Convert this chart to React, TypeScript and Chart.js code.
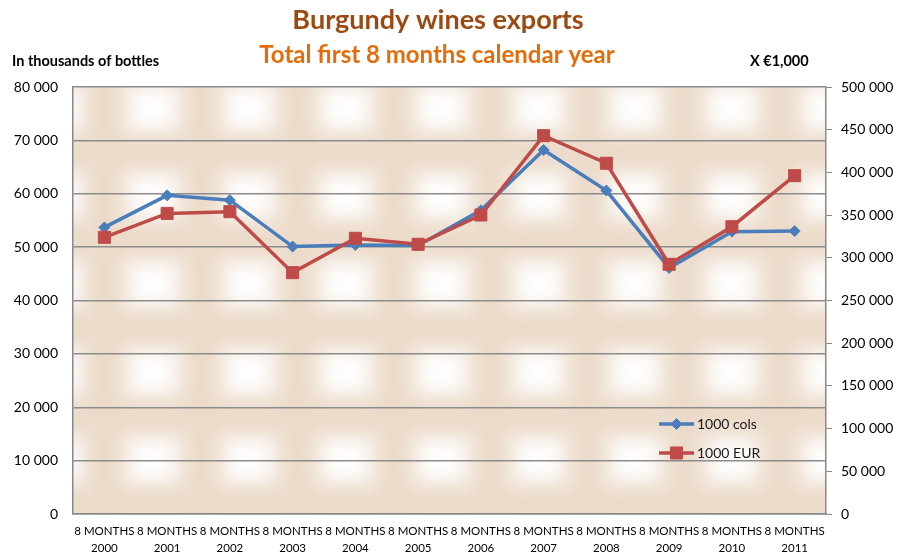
import { useEffect, useRef } from "react";
import { Chart, registerables } from "chart.js";

Chart.register(...registerables);

const years = ["2000", "2001", "2002", "2003", "2004", "2005", "2006", "2007", "2008", "2009", "2010", "2011"];
const categoryPrefix = "8 MONTHS";
const colsValues = [53700, 59700, 58800, 50100, 50400, 50300, 56900, 68200, 60600, 46100, 52900, 53000];
const eurValues = [324000, 352000, 354000, 282600, 322800, 315800, 350100, 443000, 410700, 292400, 336400, 396200];
const leftTickStep = 10000;
const leftMax = 80000;
const rightTickStep = 50000;
const rightMax = 500000;

const titleText = "Burgundy wines exports";
const subtitleText = "Total first 8 months calendar year";
const leftCaption = "In thousands of bottles";
const rightCaption = "X €1,000";
const seriesNames = ["1000 cols", "1000 EUR"];

const BLUE = "#4a7ebb";
const RED = "#be4b48";
const FONT = "Lato, 'Liberation Sans', sans-serif";

const fmt = (v: number) => String(v).replace(/\B(?=(\d{3})+(?!\d))/g, " ");

function makePattern(ctx: CanvasRenderingContext2D) {
  const W = 96.5;
  const H = 88;
  const tile = document.createElement("canvas");
  tile.width = 97;
  tile.height = H;
  const t = tile.getContext("2d")!;
  t.fillStyle = "#ecdbca";
  t.fillRect(0, 0, 97, H);
  t.filter = "blur(9px)";
  t.fillStyle = "rgba(255,255,255,0.6)";
  t.fillRect(17, 17, 63, 54);
  t.filter = "blur(7px)";
  t.fillStyle = "rgba(255,255,255,0.85)";
  t.fillRect(30, 28, 37, 32);
  t.filter = "none";
  const p = ctx.createPattern(tile, "repeat")!;
  p.setTransform(new DOMMatrix().translate(153 - 48.5, 372 - 44).scale(W / 97, 1));
  return p;
}

const bgPlugin = {
  id: "bgPattern",
  beforeDraw(chart: any) {
    const { ctx, chartArea } = chart;
    ctx.save();
    ctx.fillStyle = makePattern(ctx);
    ctx.fillRect(chartArea.left, chartArea.top, chartArea.right - chartArea.left, chartArea.bottom - chartArea.top);
    ctx.restore();
  },
};

function drawMarker(ctx: CanvasRenderingContext2D, style: string, r: number, x: number, y: number, color: string) {
  ctx.save();
  ctx.fillStyle = color;
  ctx.strokeStyle = color;
  ctx.lineWidth = 1;
  ctx.beginPath();
  if (style === "rect") {
    const s = Math.SQRT1_2 * r;
    ctx.rect(x - s, y - s, 2 * s, 2 * s);
  } else {
    ctx.moveTo(x - r, y);
    ctx.lineTo(x, y - r);
    ctx.lineTo(x + r, y);
    ctx.lineTo(x, y + r);
    ctx.closePath();
  }
  ctx.fill();
  ctx.stroke();
  ctx.restore();
}

const textPlugin = {
  id: "texts",
  afterDraw(chart: any) {
    const { ctx } = chart;
    ctx.save();
    ctx.textBaseline = "middle";
    ctx.textAlign = "center";
    ctx.fillStyle = "#9c4a12";
    ctx.font = `bold 27px ${FONT}`;
    ctx.fillText(titleText, 438, 20);
    ctx.fillStyle = "#e46c0a";
    ctx.font = `bold 24px ${FONT}`;
    ctx.fillText(subtitleText, 437, 55);
    ctx.fillStyle = "#000000";
    ctx.font = `bold 14.5px ${FONT}`;
    ctx.textAlign = "left";
    ctx.fillText(leftCaption, 12, 61);
    ctx.fillText(rightCaption, 750, 61);

    const items = [
      { name: seriesNames[0], color: BLUE, style: "rectRot", r: 5.5, y: 424 },
      { name: seriesNames[1], color: RED, style: "rect", r: 8.5, y: 453 },
    ];
    ctx.font = `14px ${FONT}`;
    for (const it of items) {
      ctx.strokeStyle = it.color;
      ctx.lineWidth = 3.5;
      ctx.beginPath();
      ctx.moveTo(659, it.y);
      ctx.lineTo(694, it.y);
      ctx.stroke();
      drawMarker(ctx, it.style, it.r, 676.5, it.y, it.color);
      ctx.fillStyle = "#1a1a1a";
      ctx.fillText(it.name, 697, it.y);
    }
    ctx.restore();
  },
};

export default function App() {
  const ref = useRef<HTMLCanvasElement>(null);
  useEffect(() => {
    const canvas = ref.current!;
    const chart = new Chart(canvas, {
      type: "line",
      data: {
        labels: years.map((y) => [categoryPrefix, y]),
        datasets: [
          {
            label: seriesNames[0],
            data: colsValues,
            yAxisID: "y",
            borderColor: BLUE,
            backgroundColor: BLUE,
            borderWidth: 3.5,
            pointStyle: "rectRot",
            pointRadius: 5.5,
            pointBorderWidth: 1,
            tension: 0,
            order: 1,
          },
          {
            label: seriesNames[1],
            data: eurValues,
            yAxisID: "y1",
            borderColor: RED,
            backgroundColor: RED,
            borderWidth: 3.5,
            pointStyle: "rect",
            pointRadius: 8.5,
            pointBorderWidth: 1,
            tension: 0,
            order: 0,
          },
        ],
      },
      options: {
        responsive: false,
        animation: false,
        layout: { padding: { top: 87, left: 0, right: 0, bottom: 0 } },
        plugins: { legend: { display: false }, title: { display: false }, tooltip: { enabled: false } },
        scales: {
          x: {
            offset: true,
            grid: { display: true, drawOnChartArea: false, drawTicks: false },
            border: { display: true, color: "#888888", width: 1.5 },
            ticks: {
              autoSkip: false,
              maxRotation: 0,
              minRotation: 0,
              padding: 8,
              color: "#000000",
              font: { family: FONT, size: 11.5, lineHeight: 1.55 },
            },
            afterFit(scale: any) {
              scale.height = 43;
            },
          },
          y: {
            position: "left",
            min: 0,
            max: leftMax,
            ticks: {
              stepSize: leftTickStep,
              padding: 15,
              color: "#000000",
              font: { family: FONT, size: 14 },
              callback: (v: any) => fmt(Number(v)),
            },
            grid: { color: "#8c8c8c", lineWidth: 1.5, drawTicks: false },
            border: { display: true, color: "#888888", width: 1.5 },
            afterFit(scale: any) {
              scale.width = 73;
            },
          },
          y1: {
            position: "right",
            min: 0,
            max: rightMax,
            ticks: {
              stepSize: rightTickStep,
              padding: 9,
              color: "#000000",
              font: { family: FONT, size: 14 },
              callback: (v: any) => fmt(Number(v)),
            },
            grid: { drawOnChartArea: false, drawTicks: true, tickLength: 6, color: "#888888", lineWidth: 1 },
            border: { display: true, color: "#888888", width: 1.5 },
            afterFit(scale: any) {
              scale.width = 80;
            },
          },
        },
      },
      plugins: [bgPlugin, textPlugin],
    } as any);
    return () => chart.destroy();
  }, []);
  return (
    <div style={{ position: "fixed", left: 0, top: 0, width: 906, height: 557, background: "#ffffff" }}>
      <canvas ref={ref} width={906} height={557} />
    </div>
  );
}
